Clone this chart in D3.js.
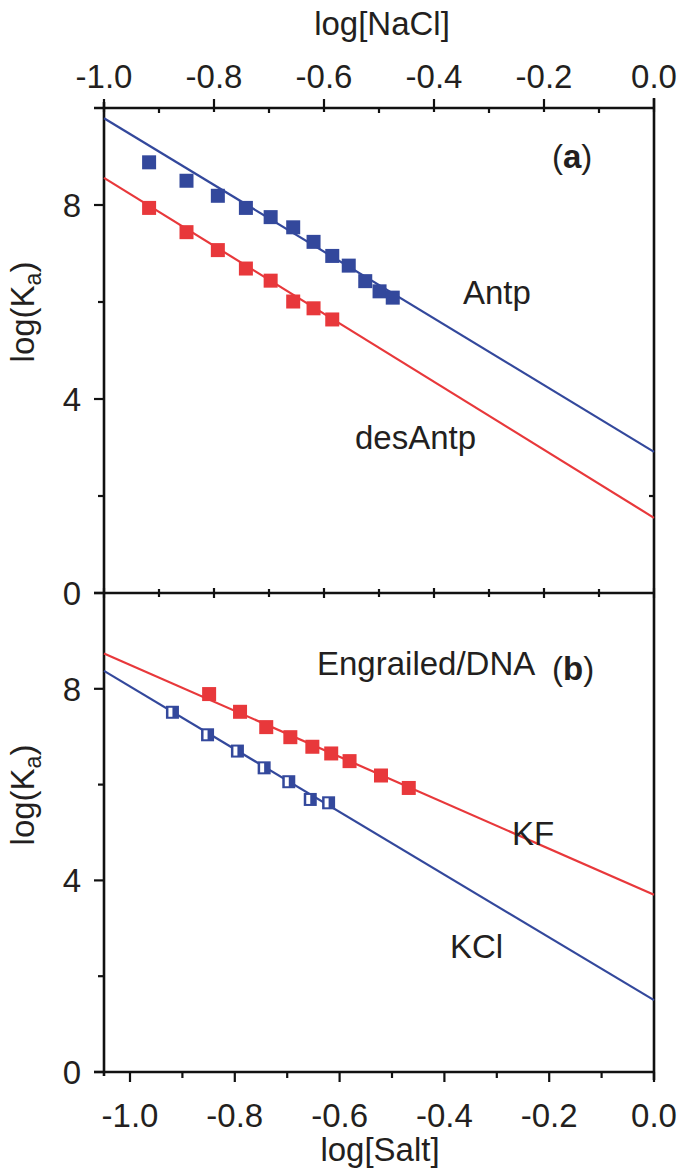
<!DOCTYPE html>
<html><head><meta charset="utf-8">
<script src="https://cdn.jsdelivr.net/npm/d3@7"></script>
<style>
html,body{margin:0;padding:0;background:#fff;}
text{font-family:"Liberation Sans",Arial,Helvetica,sans-serif;fill:#231f20;}
</style></head>
<body>
<svg id="chart" width="683" height="1171"></svg>
<script>
// ---------- data ----------
const xTickValues = [-1.0, -0.8, -0.6, -0.4, -0.2, 0.0];
const xMinorTicks = [-0.9, -0.7, -0.5, -0.3, -0.1];
const yTickValues = [0, 4, 8];
const yMinorTicks = [2, 6];

// panel (a): log[NaCl]
const antpX = [-0.918, -0.850, -0.793, -0.742, -0.697, -0.656, -0.619, -0.585, -0.555, -0.525, -0.499, -0.475];
const antpY = [8.88, 8.50, 8.19, 7.94, 7.75, 7.54, 7.24, 6.95, 6.75, 6.43, 6.22, 6.09];
const desAntpX = [-0.918, -0.850, -0.793, -0.742, -0.697, -0.656, -0.619, -0.585];
const desAntpY = [7.94, 7.44, 7.07, 6.69, 6.44, 6.01, 5.87, 5.64];

// panel (b): log[Salt]
const kfX = [-0.849, -0.790, -0.740, -0.694, -0.652, -0.616, -0.581, -0.521, -0.468];
const kfY = [7.89, 7.52, 7.20, 6.99, 6.79, 6.65, 6.49, 6.19, 5.93];
const kclX = [-0.919, -0.852, -0.795, -0.744, -0.697, -0.656, -0.621];
const kclY = [7.51, 7.04, 6.70, 6.35, 6.06, 5.69, 5.62];

// linear fits: logKa = intercept + slope * x
const fitNames = ["Antp", "desAntp", "KF", "KCl"];
const fitSlopes = [-6.88, -7.01, -4.80, -6.55];
const fitIntercepts = [2.91, 1.55, 3.70, 1.50];

// ---------- layout ----------
const BLUE = "#33489c", RED = "#e8383b";
const svg = d3.select("#chart");
const left = 104, right = 654;
const topA = 108, botA = 593, botB = 1072;
const FS = 33;

const xA = d3.scaleLinear().domain([-1.0, 0.0]).range([left, right]);
const xB = d3.scaleLinear().domain([-1.0, 0.0]).range([130, right]);
const xBdom = [xB.invert(left), 0.0];
const yA = d3.scaleLinear().domain([0, 10]).range([botA, topA]);
const yB = d3.scaleLinear().domain([0, 10]).range([botB, botA]);

const ink = "#111";
const frame = svg.append("g").attr("stroke", ink).attr("stroke-width", 2.6).attr("fill", "none");
// spines
frame.append("line").attr("x1", left - 10).attr("x2", right).attr("y1", topA).attr("y2", topA);
frame.append("line").attr("x1", left - 10).attr("x2", right).attr("y1", botA).attr("y2", botA);
frame.append("line").attr("x1", left - 10).attr("x2", right).attr("y1", botB).attr("y2", botB);
frame.append("line").attr("x1", left).attr("x2", left).attr("y1", topA - 6).attr("y2", botB + 4);
frame.append("line").attr("x1", right).attr("x2", right).attr("y1", topA - 10).attr("y2", botB + 8);

// top axis ticks (log[NaCl])
const tk = svg.append("g").attr("stroke", ink).attr("stroke-width", 2.2);
xTickValues.forEach(v => {
  tk.append("line").attr("x1", xA(v)).attr("x2", xA(v)).attr("y1", topA - 9).attr("y2", topA + 4);
  tk.append("line").attr("x1", xA(v)).attr("x2", xA(v)).attr("y1", botA - 5).attr("y2", botA + 5);
});
xMinorTicks.forEach(v => {
  tk.append("line").attr("x1", xA(v)).attr("x2", xA(v)).attr("y1", topA - 1).attr("y2", topA + 5);
  tk.append("line").attr("x1", xA(v)).attr("x2", xA(v)).attr("y1", botA - 4).attr("y2", botA + 4);
});
// bottom axis ticks (log[Salt])
xTickValues.forEach(v => {
  tk.append("line").attr("x1", xB(v)).attr("x2", xB(v)).attr("y1", botB).attr("y2", botB + 10);
});
xMinorTicks.forEach(v => {
  tk.append("line").attr("x1", xB(v)).attr("x2", xB(v)).attr("y1", botB).attr("y2", botB + 6);
});
// y ticks
[[yA], [yB]].forEach(([ys]) => {
  yTickValues.forEach(v => tk.append("line").attr("x1", left - 10).attr("x2", left).attr("y1", ys(v)).attr("y2", ys(v)));
  yMinorTicks.forEach(v => tk.append("line").attr("x1", left - 6).attr("x2", left).attr("y1", ys(v)).attr("y2", ys(v)));
});
tk.append("line").attr("x1", right - 5).attr("x2", right).attr("y1", yA(2)).attr("y2", yA(2));

// tick labels
const lab = svg.append("g").attr("font-size", FS);
xTickValues.forEach(v => {
  lab.append("text").attr("x", xA(v)).attr("y", 88).attr("text-anchor", "middle").text(d3.format(".1f")(v).replace("−", "-"));
  lab.append("text").attr("x", xB(v)).attr("y", 1127).attr("text-anchor", "middle").text(d3.format(".1f")(v).replace("−", "-"));
});
[[yA], [yB]].forEach(([ys]) => {
  yTickValues.forEach(v => lab.append("text").attr("x", 81).attr("y", ys(v)).attr("dy", "0.36em").attr("text-anchor", "end").text(v));
});
lab.append("text").attr("x", 382).attr("y", 35).attr("text-anchor", "middle").text("log[NaCl]");
lab.append("text").attr("x", 380).attr("y", 1161).attr("text-anchor", "middle").text("log[Salt]");
[[312], [795]].forEach(([cy]) => {
  const t = lab.append("text").attr("transform", `translate(34,${cy}) rotate(-90)`).attr("text-anchor", "middle");
  t.append("tspan").text("log(K");
  t.append("tspan").attr("font-size", FS * 0.7).attr("dy", 7).text("a");
  t.append("tspan").attr("dy", -7).text(")");
});

// fit lines
const fitLine = (i, xs, ys, dom) => {
  const pts = dom.map(x => [x, fitIntercepts[i] + fitSlopes[i] * x]);
  return d3.line().x(d => xs(d[0])).y(d => ys(d[1]))(pts);
};
const lines = svg.append("g").attr("fill", "none").attr("stroke-width", 2.2);
lines.append("path").attr("d", fitLine(0, xA, yA, [-1.0, 0.0])).attr("stroke", BLUE);
lines.append("path").attr("d", fitLine(1, xA, yA, [-1.0, 0.0])).attr("stroke", RED);
lines.append("path").attr("d", fitLine(2, xB, yB, xBdom)).attr("stroke", RED);
lines.append("path").attr("d", fitLine(3, xB, yB, xBdom)).attr("stroke", BLUE);

// markers
const S = 14;
const filled = (xs, ys, X, Y, col) => {
  svg.append("g").selectAll("rect").data(d3.zip(X, Y)).join("rect")
    .attr("x", d => xs(d[0]) - S / 2).attr("y", d => ys(d[1]) - S / 2)
    .attr("width", S).attr("height", S).attr("fill", col);
};
filled(xA, yA, antpX, antpY, BLUE);
filled(xA, yA, desAntpX, desAntpY, RED);
filled(xB, yB, kfX, kfY, RED);
const open = svg.append("g").selectAll("g").data(d3.zip(kclX, kclY)).join("g")
  .attr("transform", d => `translate(${xB(d[0])},${yB(d[1])})`);
open.append("rect").attr("x", -6.5).attr("y", -6.5).attr("width", 13).attr("height", 13).attr("fill", BLUE);
open.append("rect").attr("x", -4).attr("y", -4.5).attr("width", 4).attr("height", 9).attr("fill", "#fff");

// annotations
const ann = svg.append("g").attr("font-size", FS);
ann.append("text").attr("x", 463).attr("y", 304).text("Antp");
ann.append("text").attr("x", 355).attr("y", 449).text("desAntp");
ann.append("text").attr("x", 317).attr("y", 675).text("Engrailed/DNA");
ann.append("text").attr("x", 512).attr("y", 845).text("KF");
ann.append("text").attr("x", 450).attr("y", 958).text("KCl");
[["a", 168], ["b", 680]].forEach(([c, y]) => {
  const t = ann.append("text").attr("x", 552).attr("y", y);
  t.append("tspan").text("(");
  t.append("tspan").attr("font-weight", "bold").text(c);
  t.append("tspan").text(")");
});
</script>
</body></html>
